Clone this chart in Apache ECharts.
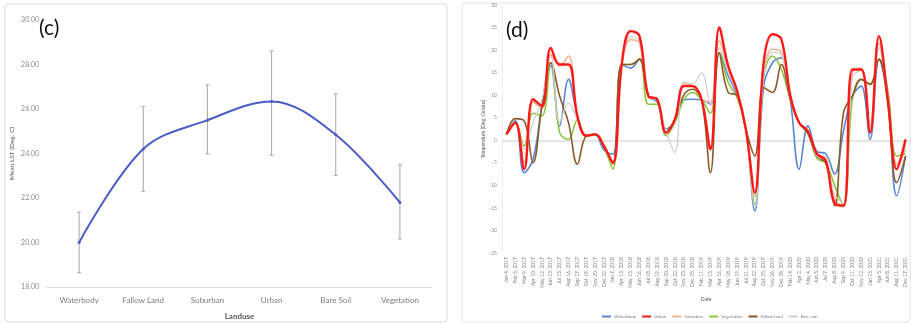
<!DOCTYPE html>
<html><head><meta charset="utf-8">
<script src="https://cdn.jsdelivr.net/npm/echarts@6/dist/echarts.min.js"></script>
<style>html,body{margin:0;padding:0;background:#fff}#c{width:913px;height:325px}</style>
</head><body><div id="c"></div>
<script>
// Panel (c)
var landuse = ["Waterbody","Fallow Land","Suburban","Urban","Bare Soil","Vegetation"];
var meanLST = [20.0, 24.2, 25.5, 26.34, 24.84, 21.8];
var errLow  = [18.64, 22.3, 23.98, 23.92, 23.02, 20.16];
var errHigh = [21.36, 26.11, 27.09, 28.61, 26.68, 23.5];
var cTicks = [18, 30, 2];

// Panel (d)
var dates = ["Jan 4, 2017","Feb 5, 2017","Mar 9, 2017","Apr 10, 2017","May 12, 2017","Jun 13, 2017","Jul 15, 2017","Aug 16, 2017","Sep 17, 2017","Oct 19, 2017","Nov 20, 2017","Dec 22, 2017","Jan 7, 2018","Apr 13, 2018","May 15, 2018","Jun 16, 2018","Jul 18, 2018","Aug 19, 2018","Sep 20, 2018","Oct 22, 2018","Nov 23, 2018","Dec 25, 2018","Feb 11, 2019","Mar 15, 2019","Apr 16, 2019","May 18, 2019","Jun 19, 2019","Jul 21, 2019","Aug 22, 2019","Oct 25, 2019","Nov 26, 2019","Dec 28, 2019","Feb 14, 2020","Apr 2, 2020","May 4, 2020","Jun 5, 2020","Jul 7, 2020","Aug 8, 2020","Sep 9, 2020","Oct 11, 2020","Nov 12, 2020","Jan 15, 2021","Apr 5, 2021","Jun 8, 2021","Aug 11, 2021","Dec 17, 2021"];
var waterbody = [1.3,4.3,-7.2,-4.2,7.6,16.5,3.2,13.5,5.4,1.0,1.3,-2.2,-3.1,16.8,16.0,18.0,9.8,8.5,2.5,4.2,9.0,9.1,9.0,8.0,19.4,14.3,10.0,2.4,-15.7,12.0,17.2,18.3,9.1,-6.4,3.2,-2.5,-3.0,-7.5,2.0,9.8,12.0,0.2,18.0,9.1,-12.3,-3.5];
var urban = [1.3,3.9,-6.4,9.1,7.6,20.5,16.8,16.8,5.4,1.0,1.3,-1.3,-5.0,16.8,24.2,23.1,9.8,9.1,1.7,4.7,12.0,12.0,9.1,-2.0,25.0,16.5,11.0,2.4,-11.6,17.2,23.5,22.4,10.0,3.9,2.0,-3.0,-4.5,-14.0,-14.5,15.7,15.7,1.7,23.1,9.1,-6.4,0.2];
var suburban = [1.3,3.9,-5.0,8.5,7.0,19.0,16.5,18.7,5.0,1.0,1.3,-1.0,-5.5,16.8,22.3,21.5,9.8,9.1,1.7,4.5,12.5,12.0,9.0,8.5,22.0,16.0,11.0,2.4,-12.5,15.0,20.2,19.5,9.5,3.9,2.0,-3.0,-4.0,-13.0,-14.8,15.0,16.0,3.0,21.5,9.0,-5.5,-2.0];
var vegetation = [1.3,3.9,-1.3,6.0,5.4,17.2,1.7,0.2,4.5,0.8,1.3,-1.5,-6.4,16.8,16.8,18.0,8.0,8.0,1.0,4.0,9.0,10.6,9.0,6.0,19.4,12.8,9.5,2.4,-14.2,14.0,18.7,15.7,9.1,3.9,1.5,-4.0,-5.0,-10.0,-14.5,9.0,13.5,12.5,18.0,11.0,-3.5,-3.0];
var fallowLand = [1.3,4.8,4.3,-5.0,7.6,17.2,9.8,3.9,-5.3,1.0,1.3,-1.3,-5.0,16.8,16.8,18.0,9.8,9.1,1.7,4.7,10.0,11.3,9.0,-7.2,19.4,10.6,10.0,2.4,-3.5,11.7,10.6,16.8,9.1,3.9,1.5,-3.5,-5.0,-14.5,6.1,9.8,13.5,12.4,18.0,8.0,-9.4,-3.5];
var bareSoil = [1.3,3.9,-2.0,4.0,9.0,18.5,4.0,8.3,4.5,1.0,1.3,-1.0,-5.0,16.8,23.0,22.0,9.5,9.0,2.0,-2.7,13.0,12.5,15.0,8.0,20.5,15.0,10.5,2.4,-15.0,14.0,19.5,19.0,9.5,3.9,2.0,-3.5,-4.5,-12.0,-14.0,14.0,15.5,3.0,20.5,10.0,-5.0,-2.0];
var seriesNames = ["Waterbody","Urban","Suburban","Vegetation","Fallow land","Bare soil"];
var dTicks = [-25, 30, 5];

var font = "Lato, 'Open Sans', sans-serif";
var chart = echarts.init(document.getElementById('c'), null, {renderer:'canvas'});

var dData = [waterbody, urban, suburban, vegetation, fallowLand, bareSoil];
var dColors = ["#5b86d4","#ff1a1a","#f2b48e","#8cc63f","#8b5a2b","#cfcfcf"];
var dWidths = [1.6, 2.4, 1.6, 1.6, 1.6, 1.2];
var dSeries = dData.map(function(arr, k){
  var s = {name: seriesNames[k], type:'line', xAxisIndex:1, yAxisIndex:1, data: arr,
    smooth: 0.4, showSymbol:false, symbol:'none', lineStyle:{color:dColors[k], width:dWidths[k]},
    itemStyle:{color:dColors[k]}, z: k===1 ? 5 : 3};
  if (k===0) s.markLine = {silent:true, symbol:'none', label:{show:false},
    lineStyle:{color:'#e8e4e4', width:2, type:'solid'}, data:[{yAxis:0}], z:1};
  return s;
});

var option = {
  animation:false,
  textStyle:{fontFamily:font},
  graphic:[
    {type:'rect', shape:{x:5, y:4, width:442, height:318, r:3}, style:{fill:'#fff', stroke:'#d9d9d9', lineWidth:1}, z:-10},
    {type:'rect', shape:{x:462, y:3, width:448, height:319, r:3}, style:{fill:'#fff', stroke:'#e3e3e3', lineWidth:1}, z:-10},
    {type:'text', left:39, top:18, style:{text:'(c)', font:'21px '+font, fill:'#111'}, z:10},
    {type:'text', left:506, top:20, style:{text:'(d)', font:'21px '+font, fill:'#111'}, z:10}
  ],
  grid:[
    {left:47, top:20, width:385, height:267},
    {left:502, top:5, width:408, height:248}
  ],
  xAxis:[
    {gridIndex:0, type:'category', data:landuse, boundaryGap:true,
     axisLine:{lineStyle:{color:'#d9d9d9'}}, axisTick:{show:false},
     axisLabel:{fontSize:8, color:'#7f7f7f', margin:9, fontFamily:font},
     name:'Landuse', nameLocation:'middle', nameGap:25,
     nameTextStyle:{fontSize:8, fontWeight:'bold', color:'#595959', fontFamily:font}},
    {gridIndex:1, type:'category', data:dates, boundaryGap:true,
     axisLine:{lineStyle:{color:'#ececec'}}, axisTick:{show:false},
     axisLabel:{fontSize:5, color:'#7f7f7f', rotate:90, interval:0, margin:4, fontFamily:font},
     name:'Date', nameLocation:'middle', nameGap:44,
     nameTextStyle:{fontSize:5, color:'#595959', fontFamily:font}}
  ],
  yAxis:[
    {gridIndex:0, type:'value', min:cTicks[0], max:cTicks[1], interval:cTicks[2],
     axisLine:{show:false}, axisTick:{show:false}, splitLine:{show:false},
     axisLabel:{fontSize:7, color:'#8c8c8c', margin:8, fontFamily:font, formatter:function(v){return v.toFixed(2);}},
     name:'Mean LST (Deg. C)', nameLocation:'middle', nameGap:32, nameRotate:90,
     nameTextStyle:{fontSize:6.5, color:'#595959', fontFamily:font}},
    {gridIndex:1, type:'value', min:dTicks[0], max:dTicks[1], interval:dTicks[2],
     axisLine:{show:true, lineStyle:{color:'#ececec'}}, axisTick:{show:false}, splitLine:{show:false},
     axisLabel:{fontSize:5, color:'#8c8c8c', margin:5, fontFamily:font},
     name:'Temperature (Deg. Celsius)', nameLocation:'middle', nameGap:14, nameRotate:90,
     nameTextStyle:{fontSize:5, color:'#595959', fontFamily:font}}
  ],
  legend:{data:seriesNames, left:597, top:309, itemWidth:9, itemHeight:2, itemGap:6, icon:'rect',
    textStyle:{fontSize:4.5, color:'#7f7f7f', fontFamily:font, padding:[0,0,0,-2]}},
  series:[
    {type:'custom', xAxisIndex:0, yAxisIndex:0, z:2,
     data: landuse.map(function(c,i){return [i, errLow[i], errHigh[i]];}),
     renderItem:function(params, api){
       var lo = api.coord([api.value(0), api.value(1)]);
       var hi = api.coord([api.value(0), api.value(2)]);
       var cap = 2;
       var st = {stroke:'#a6a6a6', lineWidth:1};
       return {type:'group', children:[
         {type:'line', shape:{x1:lo[0], y1:lo[1], x2:hi[0], y2:hi[1]}, style:st},
         {type:'line', shape:{x1:lo[0]-cap, y1:lo[1], x2:lo[0]+cap, y2:lo[1]}, style:st},
         {type:'line', shape:{x1:hi[0]-cap, y1:hi[1], x2:hi[0]+cap, y2:hi[1]}, style:st}
       ]};
     }},
    {type:'line', xAxisIndex:0, yAxisIndex:0, data:meanLST, smooth:0.35, z:3,
     symbol:'circle', symbolSize:3, lineStyle:{color:'#4a5cc5', width:2}, itemStyle:{color:'#4a5cc5'}}
  ].concat(dSeries)
};
chart.setOption(option);
</script></body></html>
